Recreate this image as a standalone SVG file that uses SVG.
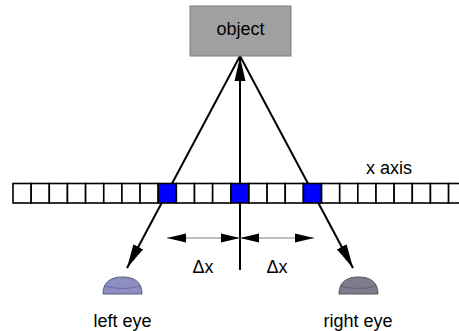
<svg xmlns="http://www.w3.org/2000/svg" width="459" height="331" viewBox="0 0 459 331">
  <style>
    .lbl { font-family: "Liberation Sans", Arial, sans-serif; font-size: 18px; fill: #000; }
    .ray { stroke: #000; stroke-width: 2; fill: none; }
    .dim { stroke: #808080; stroke-width: 1; fill: none; }
    .cell { fill: #fff; stroke: #000; stroke-width: 1.6; }
    .hit { fill: #0000ff; stroke: #000; stroke-width: 1.6; }
  </style>
  <defs>
    <marker id="head" markerUnits="userSpaceOnUse" markerWidth="24" markerHeight="12" refX="24" refY="6" orient="auto">
      <path d="M0,0.5 L24,6 L0,11.5 Z" fill="#000"/>
    </marker>
    <marker id="small" markerUnits="userSpaceOnUse" markerWidth="19" markerHeight="10" refX="19" refY="5" orient="auto-start-reverse">
      <path d="M0,0.5 L19,5 L0,9.5 Z" fill="#000"/>
    </marker>
  </defs>

  <rect width="459" height="331" fill="#fff"/>

  <!-- rays from the object, drawn beneath the axis strip -->
  <g id="connectors">
    <line class="ray" x1="240" y1="270" x2="240" y2="57" marker-end="url(#head)"/>
    <line class="ray" x1="240" y1="56" x2="127" y2="268" marker-end="url(#head)"/>
    <line class="ray" x1="240" y1="56" x2="353" y2="268" marker-end="url(#head)"/>
    <line class="dim" x1="167" y1="238" x2="240" y2="238" marker-start="url(#small)" marker-end="url(#small)"/>
    <line class="dim" x1="240" y1="238" x2="314" y2="238" marker-start="url(#small)" marker-end="url(#small)"/>
  </g>

  <g id="object">
    <rect x="190" y="6" width="101" height="50" fill="#a0a0a0" stroke="#7f7f7f" stroke-width="1"/>
    <text class="lbl" x="240.5" y="35" text-anchor="middle">object</text>
  </g>

  <!-- x axis strip of pixel cells -->
  <g id="x-axis">
    <rect class="cell" x="13" y="183.5" width="18.15" height="19.5"/>
    <rect class="cell" x="31.15" y="183.5" width="18.15" height="19.5"/>
    <rect class="cell" x="49.3" y="183.5" width="18.15" height="19.5"/>
    <rect class="cell" x="67.45" y="183.5" width="18.15" height="19.5"/>
    <rect class="cell" x="85.6" y="183.5" width="18.15" height="19.5"/>
    <rect class="cell" x="103.75" y="183.5" width="18.15" height="19.5"/>
    <rect class="cell" x="121.9" y="183.5" width="18.15" height="19.5"/>
    <rect class="cell" x="140.05" y="183.5" width="18.15" height="19.5"/>
    <rect class="hit" x="158.2" y="183.5" width="18.15" height="19.5"/>
    <rect class="cell" x="176.35" y="183.5" width="18.15" height="19.5"/>
    <rect class="cell" x="194.5" y="183.5" width="18.15" height="19.5"/>
    <rect class="cell" x="212.65" y="183.5" width="18.15" height="19.5"/>
    <rect class="hit" x="230.8" y="183.5" width="18.15" height="19.5"/>
    <rect class="cell" x="248.95" y="183.5" width="18.15" height="19.5"/>
    <rect class="cell" x="267.1" y="183.5" width="18.15" height="19.5"/>
    <rect class="cell" x="285.25" y="183.5" width="18.15" height="19.5"/>
    <rect class="hit" x="303.4" y="183.5" width="18.15" height="19.5"/>
    <rect class="cell" x="321.55" y="183.5" width="18.15" height="19.5"/>
    <rect class="cell" x="339.7" y="183.5" width="18.15" height="19.5"/>
    <rect class="cell" x="357.85" y="183.5" width="18.15" height="19.5"/>
    <rect class="cell" x="376" y="183.5" width="18.15" height="19.5"/>
    <rect class="cell" x="394.15" y="183.5" width="18.15" height="19.5"/>
    <rect class="cell" x="412.3" y="183.5" width="18.15" height="19.5"/>
    <rect class="cell" x="430.45" y="183.5" width="18.15" height="19.5"/>
    <rect class="cell" x="448.6" y="183.5" width="18.15" height="19.5"/>
    <text class="lbl" x="366" y="174">x axis</text>
  </g>

  <g id="delta-left">
    <text class="lbl" x="203" y="273" text-anchor="middle">Δx</text>
  </g>
  <g id="delta-right">
    <text class="lbl" x="277" y="273" text-anchor="middle">Δx</text>
  </g>

  <g id="left-eye">
    <path d="M103,294 C103,281 112,277 122.5,277 C133,277 142,281 142,294 Z" fill="#8e8ec4" stroke="#5a5a7a" stroke-width="1"/>
    <path d="M104.5,286 Q122.5,291 140.5,286" fill="none" stroke="#6a6aa0" stroke-width="1"/>
    <text class="lbl" x="122.5" y="327" text-anchor="middle">left eye</text>
  </g>

  <g id="right-eye">
    <path d="M339,294 C339,281 348,277 358.5,277 C369,277 378,281 378,294 Z" fill="#7c7c8c" stroke="#55555f" stroke-width="1"/>
    <path d="M340.5,286 Q358.5,291 376.5,286" fill="none" stroke="#5f5f6c" stroke-width="1"/>
    <text class="lbl" x="358" y="327" text-anchor="middle">right eye</text>
  </g>
</svg>
